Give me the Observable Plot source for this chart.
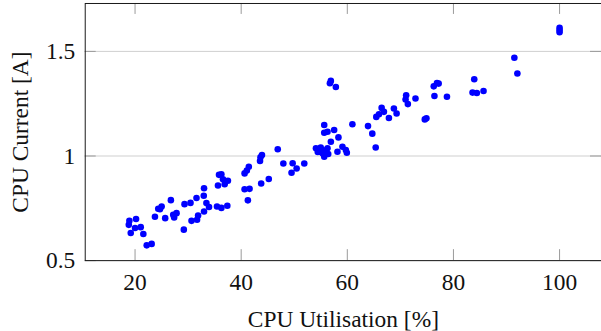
<!DOCTYPE html>
<html>
<head>
<meta charset="utf-8">
<script src="https://cdn.jsdelivr.net/npm/d3@7"></script>
<script src="https://cdn.jsdelivr.net/npm/@observablehq/plot@0.6"></script>
<style>
  html, body { margin: 0; padding: 0; background: #fff; overflow: hidden; }
  #chart { width: 601px; height: 331px; overflow: hidden; }
  #chart svg, #chart svg text { font-family: "Liberation Serif", "DejaVu Serif", serif !important; }
</style>
</head>
<body>
<div id="chart"></div>
<script>
// CPU utilisation [%]
const cpuUtil = [18.93,20.19,18.82,19.19,20.0,21.07,21.56,22.20,23.13,23.75,
  24.37,25.01,24.69,25.68,26.75,27.19,27.82,27.37,29.32,30.45,
  29.19,30.64,31.58,31.88,31.69,33.0,32.95,33.45,33.0,33.94,
  35.44,35.63,35.82,36.27,36.57,37.50,36.89,36.27,37.39,40.64,
  41.58,41.26,40.64,41.07,41.44,43.77,45.20,43.55,43.64,43.92,
  46.89,47.95,49.70,50.45,49.49,51.89,54.09,54.71,55.33,55.65,
  56.27,55.33,54.43,55.93,56.40,54.99,58.14,59.08,59.72,59.91,
  55.65,55.65,56.27,57.52,58.33,56.90,60.96,63.90,64.71,65.35,
  65.46,56.90,56.72,57.84,66.47,66.90,65.97,67.84,68.78,69.29,
  71.09,70.98,71.41,72.85,74.60,74.91,76.29,76.90,77.22,76.42,
  78.78,83.92,83.60,84.41,85.67,91.48,92.05,100,100,100];
// CPU current [A]
const cpuCurrent = [0.690,0.699,0.671,0.632,0.656,0.660,0.627,0.573,0.580,0.710,
  0.748,0.759,0.746,0.703,0.789,0.719,0.727,0.706,0.770,0.776,
  0.648,0.690,0.799,0.716,0.695,0.846,0.810,0.775,0.735,0.756,
  0.759,0.859,0.910,0.913,0.889,0.882,0.865,0.752,0.762,0.841,
  0.843,0.788,0.917,0.931,0.949,0.869,0.890,0.976,0.994,1.005,
  1.032,0.964,0.965,0.940,0.920,0.964,1.037,1.020,1.013,0.997,
  1.037,1.029,1.019,1.024,1.010,1.040,1.020,1.044,1.029,1.016,
  1.148,1.111,1.116,1.124,1.089,1.068,1.152,1.143,1.107,1.041,
  1.187,1.359,1.348,1.330,1.230,1.211,1.200,1.182,1.227,1.203,
  1.290,1.270,1.248,1.275,1.175,1.180,1.333,1.349,1.346,1.287,
  1.283,1.367,1.303,1.301,1.311,1.470,1.394,1.613,1.602,1.592];

const xTicks = [20, 40, 60, 80, 100];
const xTickLabels = ["20", "40", "60", "80", "100"];
const yTicks = [0.5, 1, 1.5];
const yTickLabels = ["0.5", "1", "1.5"];
const xTitle = "CPU Utilisation [%]";
const yTitle = "CPU Current [A]";

const points = cpuUtil.map((u, i) => ({u, c: cpuCurrent[i]}));

const FONT = "Liberation Serif";
const W = 603, H = 331, mL = 85, mR = 0, mT = 3, mB = 70;
const innerW = W - mL - mR, innerH = H - mT - mB;
const tickLen = 11;
const gridColor = "#cfcfcf", tickColor = "#9a9a9a";

const chart = Plot.plot({
  width: W,
  height: H,
  marginLeft: mL,
  marginRight: mR,
  marginTop: mT,
  marginBottom: mB,
  style: {fontFamily: FONT, fontSize: "23.5px", background: "white", color: "black", overflow: "visible"},
  x: {domain: [10.61, 107.9]},
  y: {domain: [0.5, 1.729]},
  marks: [
    Plot.tickY(yTicks, {y: d => d, stroke: gridColor, strokeWidth: 1}),
    Plot.tickX(xTicks, {x: d => d, insetTop: innerH - tickLen, stroke: tickColor}),
    Plot.tickX(xTicks, {x: d => d, insetBottom: innerH - tickLen, stroke: tickColor}),
    Plot.tickY(yTicks, {y: d => d, insetRight: innerW - tickLen, stroke: tickColor}),
    Plot.tickY(yTicks, {y: d => d, insetLeft: innerW - tickLen, stroke: tickColor}),
    Plot.frame({stroke: "#1a1a1a", strokeWidth: 1}),
    Plot.dot(points, {x: "u", y: "c", r: 3.3, fill: "#0000ff", stroke: null}),
    Plot.axisX(xTicks, {anchor: "bottom", tickSize: 0, tickPadding: 13, label: null,
      tickFormat: d => xTickLabels[xTicks.indexOf(d)], fill: "#111", fontFamily: FONT, fontSize: 23.5}),
    Plot.axisY(yTicks, {anchor: "left", tickSize: 0, tickPadding: 10, label: null,
      tickFormat: d => yTickLabels[yTicks.indexOf(d)], fill: "#111", fontFamily: FONT, fontSize: 23.5}),
    Plot.text([xTitle], {text: d => d, frameAnchor: "bottom", lineAnchor: "bottom", textAnchor: "middle",
      dy: 67, fill: "#111", fontFamily: FONT, fontSize: 23.5}),
    Plot.text([yTitle], {text: d => d, frameAnchor: "left", lineAnchor: "bottom", textAnchor: "middle",
      rotate: -90, dx: -57, fill: "#111", fontFamily: FONT, fontSize: 23.5})
  ]
});
document.getElementById("chart").appendChild(chart);
</script>
</body>
</html>
